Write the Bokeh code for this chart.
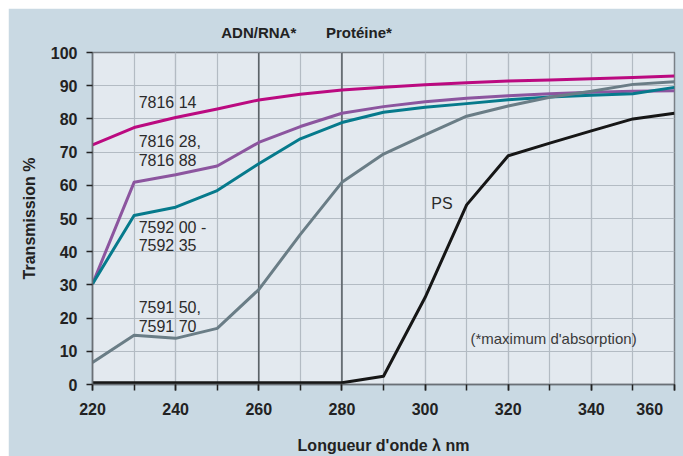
from bokeh.plotting import figure
from bokeh.models import Span, Label, FixedTicker, Range1d, LinearAxis
from bokeh.embed import file_html
from bokeh.resources import INLINE

wavelength = [220, 230, 240, 250, 260, 270, 280, 290, 300, 310, 320, 330, 340, 350, 360]
s_781614 = [72.2, 77.4, 80.4, 83.0, 85.7, 87.4, 88.7, 89.5, 90.3, 90.9, 91.4, 91.7, 92.1, 92.5, 92.9]
s_781628 = [30.3, 60.9, 63.2, 65.8, 72.9, 77.7, 81.7, 83.7, 85.2, 86.2, 87.0, 87.6, 88.0, 88.3, 88.5]
s_759200 = [30.3, 50.9, 53.4, 58.4, 66.5, 74.0, 78.9, 82.0, 83.5, 84.6, 85.8, 86.6, 87.1, 87.6, 89.5]
s_759150 = [6.6, 14.8, 13.9, 16.9, 28.6, 45.2, 60.9, 69.4, 75.2, 80.8, 83.9, 86.5, 88.3, 90.4, 91.2]
s_ps = [0.5, 0.5, 0.5, 0.5, 0.5, 0.5, 0.5, 2.5, 26.2, 54.1, 68.9, 72.7, 76.4, 80.0, 81.7]

x_ticks = [220, 240, 260, 280, 300, 320, 340, 360]
y_ticks = [0, 10, 20, 30, 40, 50, 60, 70, 80, 90, 100]
marker_lines = [260, 280]
marker_labels = ["ADN/RNA*", "Protéine*"]
marker_label_x = [260, 284.1]

series = [
    (s_781614, "#bb0a80"),
    (s_781628, "#8c559f"),
    (s_759200, "#067a8c"),
    (s_759150, "#6a7d86"),
    (s_ps, "#161616"),
]

curve_labels = [
    ("7816 14", 231.1, 85.0),
    ("7816 28,", 231.1, 73.2),
    ("7816 88", 231.1, 67.5),
    ("7592 00 -", 231.1, 47.4),
    ("7592 35", 231.1, 41.9),
    ("7591 50,", 231.1, 23.2),
    ("7591 70", 231.1, 17.5),
    ("PS", 301.5, 54.4),
]
note = ("(*maximum d'absorption)", 310.9, 13.9)

FONT = "Liberation Sans"

p = figure(width=675, height=448, output_backend="svg", toolbar_location=None,
           x_range=Range1d(220, 360), y_range=Range1d(0, 100),
           min_border_left=84, min_border_right=9, min_border_top=44, min_border_bottom=72)
p.margin = (8, 0, 0, 8)

p.border_fill_color = "#c9d9e3"
p.background_fill_color = "#e3e9ef"
p.outline_line_color = "#7a8086"
p.outline_line_width = 1.5

p.xaxis.ticker = FixedTicker(ticks=x_ticks, minor_ticks=list(range(220, 361, 10)))
p.yaxis.ticker = FixedTicker(ticks=y_ticks)
# keep the last label inside the page, as in the reference
p.xaxis.major_label_overrides = {360: "360\u2003\u00a0"}

for ax in (p.xaxis[0], p.yaxis[0]):
    ax.major_label_text_font = FONT
    ax.major_label_text_font_style = "bold"
    ax.major_label_text_font_size = "16px"
    ax.major_label_text_color = "#222222"
    ax.axis_label_text_font = FONT
    ax.axis_label_text_font_style = "bold"
    ax.axis_label_text_font_size = "16px"
    ax.axis_label_text_color = "#222222"
    ax.axis_line_color = "#6a7076"
    ax.axis_line_width = 1.5
    ax.major_tick_line_color = "#222222"
    ax.major_tick_line_width = 1.5
    ax.major_tick_in = 0
    ax.major_tick_out = 6

p.xaxis.minor_tick_in = 0
p.xaxis.minor_tick_out = 6
p.xaxis.minor_tick_line_color = "#222222"
p.xaxis.minor_tick_line_width = 1.5
p.yaxis.minor_tick_line_color = None

p.xaxis.axis_label = "Longueur d'onde λ nm"
p.yaxis.axis_label = "Transmission %"
p.xaxis.major_label_standoff = 10
p.xaxis.axis_label_standoff = 16
p.yaxis.major_label_standoff = 9
p.yaxis.axis_label_standoff = 10

# marker captions above the plot
top_axis = LinearAxis(ticker=FixedTicker(ticks=marker_label_x),
                      major_label_overrides={x: t for x, t in zip(marker_label_x, marker_labels)})
top_axis.axis_line_color = None
top_axis.major_tick_line_color = None
top_axis.minor_tick_line_color = None
top_axis.major_label_text_font = FONT
top_axis.major_label_text_font_style = "bold"
top_axis.major_label_text_font_size = "15px"
top_axis.major_label_text_color = "#222222"
top_axis.major_label_standoff = 6
p.add_layout(top_axis, "above")

p.xgrid.grid_line_color = "#b3bbc3"
p.xgrid.grid_line_width = 1.2
p.xgrid.minor_grid_line_color = "#b3bbc3"
p.xgrid.minor_grid_line_width = 1.2
p.ygrid.grid_line_color = "#b3bbc3"
p.ygrid.grid_line_width = 1.2

for loc in marker_lines:
    p.add_layout(Span(location=loc, dimension="height", line_color="#5c6368",
                      line_width=1.6, level="underlay"))

for ys, col in series:
    p.line(wavelength, ys, line_color=col, line_width=3, line_join="round")

for txt, lx, ly in curve_labels:
    p.add_layout(Label(x=lx, y=ly, text=txt, text_font=FONT, text_font_size="16px",
                       text_color="#2b2b2b", text_align="left", text_baseline="middle"))

p.add_layout(Label(x=note[1], y=note[2], text=note[0], text_font=FONT, text_font_size="15px",
                   text_color="#3a3a3a", text_align="left", text_baseline="middle"))

open("out.html", "w").write(file_html(p, INLINE))
